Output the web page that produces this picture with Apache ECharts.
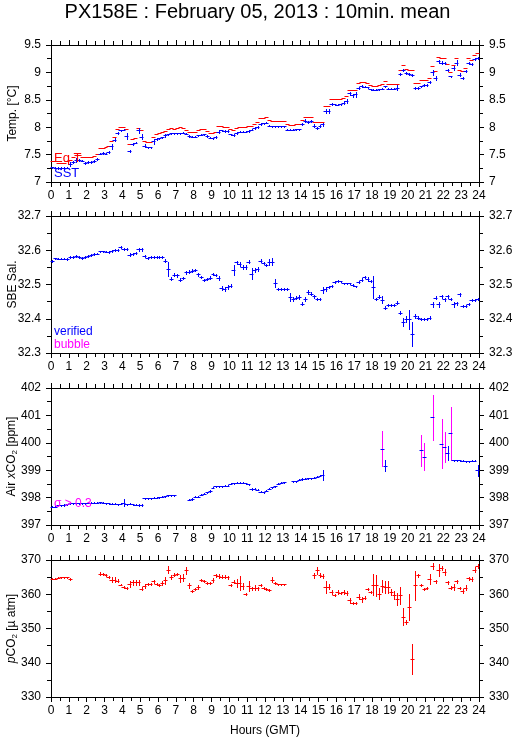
<!DOCTYPE html>
<html><head><meta charset="utf-8">
<script src="https://cdn.jsdelivr.net/npm/echarts@6/dist/echarts.min.js"></script>
<style>html,body{margin:0;padding:0;background:#fff}#c{width:515px;height:739px}</style>
</head><body><div id="c"></div>
<script>
// ---- data: 10-min means, 6 values per hour (index i -> hour (i+0.5)/6) ----
const titleText = 'PX158E : February 05, 2013 : 10min. mean';
const sstValues = [
 7.27,7.26,7.26,7.25,7.25,7.26, 7.33,7.36,7.40,7.40,7.39,7.35, 7.36,7.37,7.38,7.42,7.52,7.53,
 7.52,7.55,7.65,7.77,7.89,7.94, 7.95,7.84,7.57,7.70,7.72,7.94, 7.83,7.66,7.63,7.63,7.74,7.79,
 7.80,7.82,7.85,7.87,7.89,7.89, 7.89,7.89,7.90,7.88,7.84,7.83, 7.83,7.85,7.86,7.87,7.84,7.81,
 7.80,7.82,7.92,7.94,7.93,7.93, 7.87,7.86,7.90,7.92,7.92,7.92, 7.93,7.95,7.98,8.00,8.06,8.07,
 8.08,8.03,8.02,8.02,8.02,8.02, 8.02,7.95,7.95,7.95,7.96,7.96, 8.06,8.12,8.10,8.12,8.03,7.99,
 8.02,8.05,8.29,8.29,8.43,8.42, 8.41,8.42,8.45,8.48,8.62,8.58, 8.60,8.72,8.75,8.74,8.73,8.69,
 8.68,8.68,8.69,8.70,8.75,8.70, 8.70,8.70,8.72,8.97,9.05,8.99, 8.97,8.95,8.71,8.71,8.75,8.77,
 8.77,8.83,9.00,8.90,9.20,9.18, 9.17,9.05,8.93,9.08,9.18,8.96, 8.90,9.02,9.17,9.15,9.24,9.26];
const sstErr = [
 .01,.01,.02,.02,.02,.01, .03,.02,.03,.02,.01,.02, .02,.02,.02,.02,.01,.01,
 .01,.02,.05,.03,.02,.01, .01,.05,.02,.02,.01,.04, .05,.03,.01,.01,.04,.02,
 .01,.01,.02,.01,.01,.01, .01,.01,.01,.01,.01,.01, .01,.01,.01,.01,.01,.01,
 .01,.02,.02,.01,.01,.01, .01,.02,.02,.01,.01,.01, .01,.01,.02,.02,.02,.01,
 .01,.01,.01,.01,.01,.01, .01,.01,.01,.01,.01,.01, .02,.03,.02,.02,.03,.02,
 .02,.03,.04,.04,.02,.01, .01,.01,.02,.03,.03,.03, .05,.02,.02,.01,.01,.01,
 .01,.01,.01,.01,.01,.01, .01,.01,.05,.02,.02,.02, .02,.02,.02,.02,.01,.01,
 .01,.02,.05,.04,.02,.02, .02,.02,.01,.04,.04,.02, .02,.02,.02,.02,.02,.02];
const eqtValues = [
 7.39,7.38,7.34,7.34,7.35,7.38, 7.40,7.46,7.49,7.49,7.46,7.46, 7.46,7.46,7.47,7.52,7.62,7.62,
 7.63,7.65,7.74,7.83,7.96,8.01, 8.01,7.96,7.70,7.79,7.81,7.98, 7.94,7.74,7.73,7.73,7.83,7.88,
 7.89,7.91,7.93,7.96,7.98,7.97, 7.98,8.00,7.98,7.95,7.92,7.92, 7.92,7.94,7.96,7.97,7.93,7.90,
 7.90,7.91,8.02,8.02,8.01,8.01, 7.97,7.95,7.99,8.01,8.01,8.01, 8.02,8.03,8.06,8.10,8.17,8.17,
 8.19,8.13,8.12,8.12,8.12,8.12, 8.11,8.05,8.04,8.04,8.05,8.05, 8.14,8.19,8.18,8.19,8.10,8.09,
 8.09,8.10,8.38,8.38,8.51,8.51, 8.51,8.51,8.53,8.57,8.68,8.67, 8.68,8.80,8.83,8.83,8.81,8.77,
 8.76,8.76,8.77,8.78,8.85,8.79, 8.78,8.79,8.79,9.04,9.14,9.06, 9.04,9.04,8.81,8.80,8.86,8.87,
 8.86,8.90,9.11,9.02,9.28,9.27, 9.26,9.16,9.00,9.13,9.27,9.04, 9.02,9.08,9.26,9.23,9.32,9.35];
const salValues = [
 32.568,32.576,32.575,32.575,32.575,32.575, 32.579,32.581,32.583,32.580,32.577,32.580,
 32.584,32.587,32.588,32.590,32.597,32.597, 32.596,32.595,32.598,32.600,32.602,32.609,
 32.605,32.603,32.587,32.590,32.592,32.603, 32.603,32.584,32.577,32.580,32.580,32.580,
 32.580,32.580,32.570,32.545,32.517,32.529, 32.527,32.514,32.519,32.536,32.537,32.540,
 32.541,32.530,32.521,32.513,32.515,32.520, 32.530,32.527,32.518,32.490,32.487,32.493,
 32.497,32.542,32.565,32.560,32.551,32.551, 32.567,32.532,32.543,32.545,32.570,32.563,
 32.557,32.566,32.566,32.505,32.488,32.488, 32.487,32.488,32.464,32.457,32.462,32.464,
 32.444,32.458,32.478,32.473,32.466,32.459, 32.457,32.484,32.488,32.493,32.495,32.507,
 32.509,32.509,32.503,32.503,32.503,32.499, 32.495,32.508,32.514,32.522,32.516,32.510,
 32.493,32.458,32.464,32.455,32.432,32.439, 32.439,32.441,32.447,32.418,32.391,32.399,
 32.399,32.355,32.408,32.403,32.399,32.399, 32.399,32.403,32.442,32.461,32.442,32.466,
 32.457,32.466,32.458,32.442,32.445,32.471, 32.437,32.437,32.444,32.454,32.454,32.457];
const salErr = [
 .003,.002,.002,.002,.002,.003, .003,.003,.003,.003,.003,.003, .003,.003,.003,.002,.002,.002,
 .002,.002,.002,.003,.003,.003, .003,.003,.004,.003,.003,.005, .004,.003,.002,.002,.002,.002,
 .002,.003,.004,.020,.004,.004, .005,.005,.004,.004,.004,.004, .003,.004,.003,.003,.003,.005,
 .003,.003,.006,.005,.005,.005, .004,.015,.004,.005,.006,.006, .005,.017,.006,.006,.003,.003,
 .004,.008,.010,.012,.003,.003, .003,.003,.012,.006,.005,.006, .004,.006,.006,.005,.004,.003,
 .003,.008,.006,.004,.003,.003, .003,.002,.002,.002,.002,.002, .002,.003,.004,.004,.006,.004,
 .032,.004,.004,.010,.004,.003, .003,.003,.004,.004,.012,.008, .028,.036,.006,.004,.003,.003,
 .003,.004,.008,.004,.008,.004, .004,.004,.004,.008,.004,.004, .004,.003,.003,.003,.003,.003];
const xco2Values = [
 397.67,397.67,397.72,397.72,397.73,397.75, 397.79,397.79,397.80,397.79,397.80,397.80,
 397.81,397.81,397.81,397.82,397.83,397.82, 397.80,397.79,397.78,397.77,397.76,397.77,
 397.81,397.76,397.77,397.75,397.74,397.73, 397.72,397.98,397.98,397.98,398.00,398.00,
 398.01,398.03,398.05,398.08,398.09,398.09, null,null,null,null,397.93,397.95,
 398.03,398.03,398.10,398.14,398.20,398.24, 398.36,398.42,398.42,398.42,398.43,398.44,
 398.50,398.53,398.55,398.55,398.55,398.52, 398.48,398.32,398.32,398.28,398.22,398.20,
 398.25,398.33,398.38,398.41,398.50,398.54, 398.56,null,null,398.60,398.60,398.66,
 398.68,398.69,398.70,398.70,398.72,398.76, 398.80,398.84,null,null,null,null,
 null,null,null,null,null,null, null,null,null,null,null,null,
 null,null,null,399.78,399.17,null, null,null,null,null,null,null,
 null,null,null,null,399.73,399.49, null,null,400.94,null,null,399.97,
 399.84,399.63,400.34,399.37,399.37,399.37, 399.34,399.32,399.32,399.35,399.35,399.00];
const xco2Err = [
 .02,.02,.02,.02,.02,.02, .02,.02,.02,.02,.02,.02, .02,.02,.02,.02,.02,.02,
 .02,.02,.02,.02,.02,.02, .13,.02,.02,.02,.02,.02, .03,.02,.02,.02,.02,.02,
 .02,.02,.02,.02,.02,.02, 0,0,0,0,.02,.02, .02,.02,.02,.02,.02,.02,
 .02,.02,.02,.02,.02,.02, .02,.02,.02,.02,.02,.02, .02,.04,.02,.02,.02,.02,
 .02,.02,.02,.03,.02,.02, .02,0,0,.02,.02,.02, .02,.02,.02,.02,.02,.02,
 .02,.18,0,0,0,0, 0,0,0,0,0,0, 0,0,0,0,0,0,
 0,0,0,.64,.20,0, 0,0,0,0,0,0, 0,0,0,0,.56,.50,
 0,0,.82,0,0,.90, .55,.26,.97,.02,.02,.02, .02,.02,.02,.02,.02,.20];
const pco2Values = [
 364.5,364.5,364.8,364.9,364.9,364.9, 364.5,null,null,null,null,null,
 null,null,null,null,366.0,365.9, 365.5,365.1,364.3,364.3,364.0,362.8,
 362.1,361.8,363.0,363.5,363.5,363.5, 361.6,362.4,363.1,362.9,363.8,362.9,
 362.6,363.3,364.1,367.2,365.0,365.7, 366.0,364.6,364.8,367.0,362.6,360.9,
 361.6,362.1,364.1,363.8,363.3,363.3, 364.1,365.5,365.3,365.1,365.1,364.9,
 362.7,363.7,363.3,363.3,362.4,360.1, 362.4,361.7,361.9,361.7,362.6,361.7,
 361.4,361.2,364.3,363.3,362.9,362.9, 362.9,null,null,null,null,null,
 null,null,null,null,365.5,367.0, 365.6,365.3,362.2,362.2,360.7,359.7,
 360.6,360.4,360.6,360.4,358.2,357.5, 357.5,359.3,358.5,359.0,361.4,360.7,
 362.8,362.6,360.2,362.4,362.2,362.2, 360.7,359.7,358.7,359.7,353.4,351.9,
 356.4,341.1,362.6,365.5,362.7,361.6, 361.9,364.5,368.2,363.8,367.0,367.7,
 366.5,363.5,361.9,362.1,363.8,361.7, 360.9,361.9,364.6,364.5,367.2,368.2];
const pco2Err = [
 .1,.1,.1,.1,.2,.2, .3,0,0,0,0,0, 0,0,0,0,.5,.3,
 .3,.3,.8,.8,.5,.2, .2,.2,.8,.8,.8,.8, .5,.5,.3,.3,.5,.3,
 .3,.5,1.0,1.0,.5,.4, .3,1.0,1.0,1.0,.8,.3, .3,.5,.3,.3,.2,.2,
 .5,.5,.5,.5,.5,.5, .3,.5,1.2,2.0,.8,.3, 1.5,.5,.8,.5,.3,.3,
 .3,.3,.8,.3,.2,.2, .2,0,0,0,0,0, 0,0,0,0,.8,1.0,
 .5,.5,1.8,.8,.5,.3, .5,.3,.5,.5,.8,.3, .3,.8,.8,.5,.3,.3,
 3.0,3.0,1.5,1.8,1.8,1.8, .8,1.2,1.8,2.5,2.5,.5, 3.8,4.5,4.2,.5,.3,.3,
 .3,1.5,.8,.5,1.8,.6, 1.0,.5,.5,1.0,.5,.3, .5,.8,.5,.5,.8,.5];

// ---- styling ----
const FONT = '"Liberation Sans", Arial, Helvetica, sans-serif';
const BLUE = '#0000ff', RED = '#ff0000', MAG = '#ff00ff';
const panels = [
  {top: 45, min: 7, max: 9.5, interval: 0.5, name: 'Temp. [°C]'},
  {top: 216, min: 32.3, max: 32.7, interval: 0.1, name: 'SBE Sal.', fmt: v => v.toFixed(1)},
  {top: 388, min: 397, max: 402, interval: 1, name: '{t|Air }{i|x}{t|CO}{s|2}{t| [ppm]}'},
  {top: 560, min: 330, max: 370, interval: 10, name: '{i|p}{t|CO}{s|2}{t| [µ atm]}'}
];
const H = 137;

function pts(vals, errs) {
  const out = [];
  vals.forEach((v, i) => { if (v != null) out.push([(i + 0.5) / 6, v, errs ? errs[i] : 0]); });
  return out;
}
function crossRenderer(dashColor, barColor, bigColor, bigThreshold) {
  return function (params, api) {
    const t = api.value(0), v = api.value(1), e = api.value(2);
    const p0 = api.coord([t - 1 / 12, v]), p1 = api.coord([t + 1 / 12, v]);
    const y = Math.round(p0[1]) + 0.5;
    const children = [];
    if (e > 0) {
      const a = api.coord([t, v + e]), b = api.coord([t, v - e]);
      const x = Math.round(a[0]) + 0.5;
      const col = (bigThreshold != null && e > bigThreshold) ? bigColor : barColor;
      children.push({type: 'line', shape: {x1: x, y1: Math.round(a[1]), x2: x, y2: Math.round(b[1]) + 1},
        style: {stroke: col, lineWidth: 1}});
    }
    children.push({type: 'line', shape: {x1: Math.round(p0[0]) - 0.5, y1: y, x2: Math.round(p1[0]) + 0.5, y2: y},
      style: {stroke: dashColor, lineWidth: 1}});
    return {type: 'group', children};
  };
}

const grid = [], xAxis = [], yAxis = [];
panels.forEach((p, k) => {
  grid.push({left: 51, width: 428, top: p.top, height: H, containLabel: false, outerBoundsMode: 'none'});
  const xBase = {type: 'value', gridIndex: k, min: 0, max: 24, interval: 1,
    axisLine: {show: true, onZero: false, lineStyle: {color: '#000', width: 1}},
    axisTick: {show: true, inside: false, length: 5, lineStyle: {color: '#000'}},
    minorTick: {show: true, splitNumber: 2, length: 4, lineStyle: {color: '#000'}},
    splitLine: {show: false}};
  xAxis.push(Object.assign({}, xBase, {position: 'bottom',
    axisLabel: {show: true, color: '#000', fontFamily: FONT, fontSize: 12, margin: 8},
    name: k === 3 ? 'Hours (GMT)' : '', nameLocation: 'middle', nameGap: 28, nameMoveOverlap: false,
    nameTextStyle: {color: '#000', fontFamily: FONT, fontSize: 12}}));
  xAxis.push(Object.assign({}, xBase, {position: 'top', axisLabel: {show: false}}));
  const yBase = {type: 'value', gridIndex: k, min: p.min, max: p.max, interval: p.interval,
    axisLine: {show: true, onZero: false, lineStyle: {color: '#000', width: 1}},
    axisTick: {show: true, inside: false, length: 5, lineStyle: {color: '#000'}},
    minorTick: {show: true, splitNumber: 2, length: 4, lineStyle: {color: '#000'}},
    splitLine: {show: false},
    axisLabel: {show: true, color: '#000', fontFamily: FONT, fontSize: 12, margin: 10,
      formatter: p.fmt || (v => String(+v.toFixed(2)))}};
  yAxis.push(Object.assign({}, yBase, {position: 'left', name: p.name, nameLocation: 'middle',
    nameGap: 32, nameRotate: 90, nameMoveOverlap: false,
    nameTextStyle: {color: '#000', fontFamily: FONT, fontSize: 12,
      rich: {t: {fontFamily: FONT, fontSize: 12, color: '#000', lineHeight: 14},
             i: {fontFamily: FONT, fontSize: 12, fontStyle: 'italic', color: '#000', lineHeight: 14},
             s: {fontFamily: FONT, fontSize: 8, color: '#000', verticalAlign: 'bottom', lineHeight: 8}}}}));
  yAxis.push(Object.assign({}, yBase, {position: 'right'}));
});

const series = [
  {type: 'custom', xAxisIndex: 0, yAxisIndex: 0, data: pts(eqtValues, null), renderItem: crossRenderer(RED, RED), silent: true},
  {type: 'custom', xAxisIndex: 0, yAxisIndex: 0, data: pts(sstValues, sstErr), renderItem: crossRenderer(BLUE, BLUE), silent: true},
  {type: 'custom', xAxisIndex: 2, yAxisIndex: 2, data: pts(salValues, salErr), renderItem: crossRenderer(BLUE, BLUE), silent: true},
  {type: 'custom', xAxisIndex: 4, yAxisIndex: 4, data: pts(xco2Values, xco2Err), renderItem: crossRenderer(BLUE, BLUE, MAG, 0.3), silent: true},
  {type: 'custom', xAxisIndex: 6, yAxisIndex: 6, data: pts(pco2Values, pco2Err), renderItem: crossRenderer(RED, RED), silent: true}
];

const chart = echarts.init(document.getElementById('c'), null, {renderer: 'canvas'});
chart.setOption({
  backgroundColor: '#fff',
  animation: false,
  title: {text: titleText, left: 'center', top: -3,
    textStyle: {fontFamily: FONT, fontSize: 20, fontWeight: 'normal', color: '#000'}},
  grid, xAxis, yAxis, series,
  graphic: [
    {type: 'text', x: 54, y: 158.5, silent: true, z: 100, style: {text: 'Eq T', fill: RED, font: '13px ' + FONT, textVerticalAlign: 'middle'}},
    {type: 'text', x: 54, y: 173.5, silent: true, z: 100, style: {text: 'SST', fill: BLUE, font: '13px ' + FONT, textVerticalAlign: 'middle'}},
    {type: 'text', x: 54, y: 332, silent: true, z: 100, style: {text: 'verified', fill: BLUE, font: '12px ' + FONT, textVerticalAlign: 'middle'}},
    {type: 'text', x: 54, y: 345, silent: true, z: 100, style: {text: 'bubble', fill: MAG, font: '12px ' + FONT, textVerticalAlign: 'middle'}},
    {type: 'text', x: 54, y: 504, silent: true, z: 100, style: {text: 'σ > 0.3', fill: MAG, font: '12px ' + FONT, textVerticalAlign: 'middle'}}
  ]
});
</script></body></html>
